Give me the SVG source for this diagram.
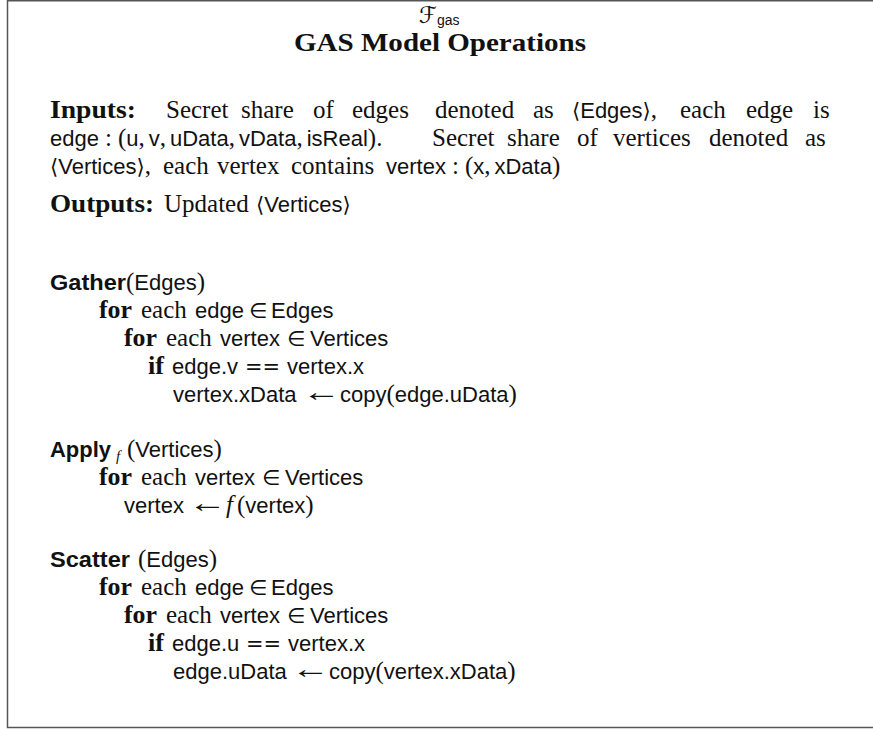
<svg xmlns="http://www.w3.org/2000/svg" width="873" height="729" viewBox="0 0 873 729">
  <style>
    text { fill: #111; }
    .rm { font-family: "Liberation Serif", serif; font-size: 25px; font-style: normal; font-weight: normal; }
    .bf { font-family: "Liberation Serif", serif; font-size: 25px; font-weight: bold; }
    .it { font-family: "Liberation Serif", serif; font-size: 25px; font-style: italic; }
    .sf { font-family: "Liberation Sans", sans-serif; font-size: 22px; font-style: normal; font-weight: normal; }
    .sb { font-family: "Liberation Sans", sans-serif; font-size: 22px; font-weight: bold; }
    .sy { font-family: "DejaVu Sans", sans-serif; font-size: 21px; font-style: normal; }
    .ar { font-family: "Liberation Serif", "DejaVu Serif", serif; font-size: 25px; }
    .frame { fill: none; stroke: #555; stroke-width: 1.5; }
  </style>

  <!-- outer frame (right side runs past the canvas) -->
  <rect class="frame" x="7.5" y="0.75" width="900" height="726.75"/>

  <!-- functionality name and title -->
  <g id="header">
    <text class="sy" x="419" y="23" style="font-size:23px">ℱ</text>
    <text class="sf" x="437" y="25" style="font-size:14px">gas</text>
    <text class="bf" x="440" y="51" text-anchor="middle" textLength="292" lengthAdjust="spacingAndGlyphs">GAS Model Operations</text>
  </g>

  <!-- inputs / outputs paragraph -->
  <g id="spec">
    <text class="bf" x="50" y="118" textLength="86" lengthAdjust="spacingAndGlyphs">Inputs:</text>
    <text class="rm" x="166" y="118">Secret</text>
    <text class="rm" x="241" y="118">share</text>
    <text class="rm" x="313" y="118">of</text>
    <text class="rm" x="352" y="118">edges</text>
    <text class="rm" x="435" y="118">denoted</text>
    <text class="rm" x="533" y="118">as</text>
    <text class="rm" x="572" y="118"><tspan class="sy">⟨</tspan><tspan class="sf">Edges</tspan><tspan class="sy">⟩</tspan>,</text>
    <text class="rm" x="680" y="118">each</text>
    <text class="rm" x="746" y="118">edge</text>
    <text class="rm" x="813" y="118">is</text>

    <text class="rm" x="50" y="146"><tspan class="sf">edge</tspan><tspan dx="6">:</tspan><tspan dx="6">(</tspan><tspan class="sf">u</tspan>,<tspan class="sf" dx="4">v</tspan>,<tspan class="sf" dx="4">uData</tspan>,<tspan class="sf" dx="4">vData</tspan>,<tspan class="sf" dx="4">isReal</tspan>).</text>
    <text class="rm" x="432" y="146">Secret</text>
    <text class="rm" x="507" y="146">share</text>
    <text class="rm" x="577" y="146">of</text>
    <text class="rm" x="613" y="146">vertices</text>
    <text class="rm" x="709" y="146">denoted</text>
    <text class="rm" x="805" y="146">as</text>

    <text class="rm" x="50" y="174"><tspan class="sy">⟨</tspan><tspan class="sf">Vertices</tspan><tspan class="sy">⟩</tspan>,</text>
    <text class="rm" x="163" y="174">each</text>
    <text class="rm" x="217" y="174">vertex</text>
    <text class="rm" x="291" y="174">contains</text>
    <text class="rm" x="386" y="174"><tspan class="sf">vertex</tspan><tspan dx="6">:</tspan><tspan dx="6">(</tspan><tspan class="sf">x</tspan>,<tspan class="sf" dx="4">xData</tspan>)</text>

    <text class="bf" x="50" y="212" textLength="104" lengthAdjust="spacingAndGlyphs">Outputs:</text>
    <text class="rm" x="164" y="212">Updated</text>
    <text class="rm" x="256" y="212"><tspan class="sy">⟨</tspan><tspan class="sf">Vertices</tspan><tspan class="sy">⟩</tspan></text>
  </g>

  <!-- Gather -->
  <g id="gather">
    <text class="sb" x="50" y="290" textLength="76" lengthAdjust="spacingAndGlyphs">Gather</text>
    <text class="rm" x="126" y="290">(<tspan class="sf">Edges</tspan>)</text>

    <text class="bf" x="99" y="318" textLength="33" lengthAdjust="spacingAndGlyphs">for</text>
    <text class="rm" x="141" y="318">each</text>
    <text class="sf" x="195" y="318">edge</text>
    <text class="sy" x="249" y="318">∈</text>
    <text class="sf" x="271" y="318">Edges</text>

    <text class="bf" x="124" y="346" textLength="33" lengthAdjust="spacingAndGlyphs">for</text>
    <text class="rm" x="166" y="346">each</text>
    <text class="sf" x="220" y="346">vertex</text>
    <text class="sy" x="287" y="346">∈</text>
    <text class="sf" x="310" y="346">Vertices</text>

    <text class="bf" x="148" y="374" textLength="16" lengthAdjust="spacingAndGlyphs">if</text>
    <text class="sf" x="172" y="374">edge.v</text>
    <text class="sy" x="245" y="374" textLength="35" lengthAdjust="spacingAndGlyphs">==</text>
    <text class="sf" x="287" y="374">vertex.x</text>

    <text class="sf" x="173" y="402">vertex.xData</text>
    <text class="ar" transform="translate(302 401) scale(1.55 1.1)">←</text>
    <text class="rm" x="340" y="402"><tspan class="sf">copy</tspan>(<tspan class="sf">edge.uData</tspan>)</text>
  </g>

  <!-- Apply -->
  <g id="apply">
    <text class="sb" x="50" y="457" textLength="61" lengthAdjust="spacingAndGlyphs">Apply</text>
    <text class="it" x="116" y="461" style="font-size:15px">f</text>
    <text class="rm" x="127" y="457">(<tspan class="sf">Vertices</tspan>)</text>

    <text class="bf" x="99" y="485" textLength="33" lengthAdjust="spacingAndGlyphs">for</text>
    <text class="rm" x="141" y="485">each</text>
    <text class="sf" x="195" y="485">vertex</text>
    <text class="sy" x="262" y="485">∈</text>
    <text class="sf" x="285" y="485">Vertices</text>

    <text class="sf" x="124" y="513">vertex</text>
    <text class="ar" transform="translate(188 512) scale(1.55 1.1)">←</text>
    <text class="it" x="226" y="513">f</text>
    <text class="rm" x="237" y="513">(<tspan class="sf">vertex</tspan>)</text>
  </g>

  <!-- Scatter -->
  <g id="scatter">
    <text class="sb" x="50" y="567" textLength="80" lengthAdjust="spacingAndGlyphs">Scatter</text>
    <text class="rm" x="138" y="567">(<tspan class="sf">Edges</tspan>)</text>

    <text class="bf" x="99" y="595" textLength="33" lengthAdjust="spacingAndGlyphs">for</text>
    <text class="rm" x="141" y="595">each</text>
    <text class="sf" x="195" y="595">edge</text>
    <text class="sy" x="249" y="595">∈</text>
    <text class="sf" x="271" y="595">Edges</text>

    <text class="bf" x="124" y="623" textLength="33" lengthAdjust="spacingAndGlyphs">for</text>
    <text class="rm" x="166" y="623">each</text>
    <text class="sf" x="220" y="623">vertex</text>
    <text class="sy" x="287" y="623">∈</text>
    <text class="sf" x="310" y="623">Vertices</text>

    <text class="bf" x="148" y="651" textLength="16" lengthAdjust="spacingAndGlyphs">if</text>
    <text class="sf" x="172" y="651">edge.u</text>
    <text class="sy" x="246" y="651" textLength="35" lengthAdjust="spacingAndGlyphs">==</text>
    <text class="sf" x="288" y="651">vertex.x</text>

    <text class="sf" x="173" y="679">edge.uData</text>
    <text class="ar" transform="translate(291 678) scale(1.55 1.1)">←</text>
    <text class="rm" x="329" y="679"><tspan class="sf">copy</tspan>(<tspan class="sf">vertex.xData</tspan>)</text>
  </g>
</svg>
